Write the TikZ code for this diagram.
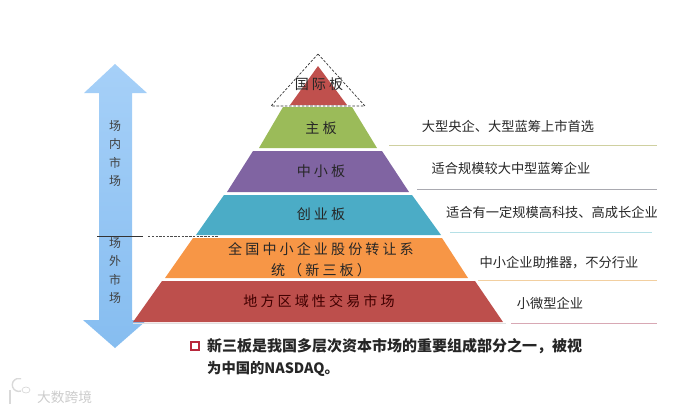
\documentclass[tikz,border=0pt]{standalone}
\usepackage{fontspec}
\setmainfont{Noto Sans CJK SC}
\newfontfamily\tierfont[LetterSpace=22]{Noto Sans CJK SC}
\usetikzlibrary{positioning}
\definecolor{arrowtop}{HTML}{A6D0F8}
\definecolor{arrowbot}{HTML}{86BDF0}
\definecolor{redtop}{HTML}{C0504D}
\definecolor{greentier}{HTML}{9BBB59}
\definecolor{purpletier}{HTML}{8064A2}
\definecolor{bluetier}{HTML}{4BACC6}
\definecolor{orangetier}{HTML}{F79646}
\definecolor{redbase}{HTML}{BD4F4C}
\definecolor{linegreen}{HTML}{CFD0A0}
\definecolor{linegrey}{HTML}{A9A9B0}
\definecolor{lineblue}{HTML}{B5E0E6}
\definecolor{lineorange}{HTML}{F2CFA0}
\definecolor{linered}{HTML}{D8A8B4}
\definecolor{markred}{HTML}{B8283C}
\tikzset{
  tier/.style={font=\tierfont\fontsize{12}{17.9}\selectfont, text=black!85, align=center, inner sep=0pt},
  note/.style={font=\fontsize{11.3}{15}\selectfont, text=black!85, inner sep=0pt},
  side/.style={font=\fontsize{10.2}{14}\selectfont, text=black!75, inner sep=0pt, text height=9pt, text depth=1.2pt},
  rule/.style={line width=0.7pt},
}
\begin{document}
\begin{tikzpicture}[x=0.03cm,y=-0.03cm]
\useasboundingbox (0,0) rectangle (699,412);
% double arrow
\shade[top color=arrowtop, bottom color=arrowbot]
  (115,64) -- (147,93) -- (132,93) -- (132,320) -- (147,320) -- (115,348) -- (83,320) -- (99,320) -- (99,93) -- (84,93) -- cycle;
\node[side] (in1) at (115,126) {场};
\node[side,below=5.1pt of in1] (in2) {内};
\node[side,below=5.1pt of in2] (in3) {市};
\node[side,below=5.1pt of in3] (in4) {场};
\node[side] (out1) at (115,243) {场};
\node[side,below=5.1pt of out1] (out2) {外};
\node[side,below=5.1pt of out2] (out3) {市};
\node[side,below=5.1pt of out3] (out4) {场};
\coordinate (cutA) at (97,236);
\coordinate (cutB) at (143,236);
\coordinate (cutC) at (148,236);
\coordinate (cutD) at (219,236);
\draw[line width=0.6pt, black!80] (cutA) -- (cutB);
\draw[dash pattern=on 2pt off 1.2pt, line width=0.5pt, black!70] (cutC) -- (cutD);
% pyramid
\fill[redtop] (318,66) -- (347,105) -- (290,105) -- cycle;
\fill[greentier] (283,107) -- (352,107) -- (377,148) -- (259,148) -- cycle;
\fill[purpletier] (253,151) -- (382,151) -- (409,192) -- (227,192) -- cycle;
\fill[bluetier] (224,195) -- (412,195) -- (441,235) -- (196,235) -- cycle;
\fill[orangetier] (193,238) -- (442,238) -- (468,278) -- (165,278) -- cycle;
\fill[redbase] (162,281) -- (475,281) -- (503,322) -- (133,322) -- cycle;
\draw[black!12, line width=1pt] (133,323.5) -- (506,323.5);
\draw[dash pattern=on 2.2pt off 1.4pt, line width=0.6pt, black!80] (318,54) -- (365,106) -- (271,106) -- cycle;
\node[tier] (intl) at (319,84) {国际板};
\node[tier] (main) at (321,128) {主板};
\node[tier] (sme) at (321,171) {中小板};
\node[tier] (gem) at (321,214) {创业板};
\node[tier] (neeq) at (321,259.5) {全国中小企业股份转让系\\统（新三板）};
\node[tier, text=black!75!red] (otc) at (319,301) {地方区域性交易市场};
% notes
\node[note] (n1) at (508,126) {大型央企、大型蓝筹上市首选};
\node[note] (n2) at (511,168) {适合规模较大中型蓝筹企业};
\node[note] (n3) at (552,212) {适合有一定规模高科技、高成长企业};
\node[note] (n4) at (559,263) {中小企业助推器，不分行业};
\node[note] (n5) at (550,303) {小微型企业};
\coordinate (l1a) at (389,145); \coordinate (l1b) at (657,145);
\coordinate (l2a) at (417,189); \coordinate (l2b) at (657,189);
\coordinate (l3a) at (450,232); \coordinate (l3b) at (652,232);
\coordinate (l4a) at (478,280); \coordinate (l4b) at (657,280);
\coordinate (l5a) at (511,323); \coordinate (l5b) at (657,323);
\draw[rule, draw=linegreen] (l1a) -- (l1b);
\draw[rule, draw=linegrey] (l2a) -- (l2b);
\draw[rule, draw=lineblue] (l3a) -- (l3b);
\draw[rule, draw=lineorange] (l4a) -- (l4b);
\draw[rule, draw=linered] (l5a) -- (l5b);
% remark
\node[draw=markred, line width=1.3pt, minimum size=7pt, inner sep=0pt] (mark) at (195,346) {};
\node[note, font=\fontsize{12.8}{15}\bfseries\selectfont, anchor=west] (r1) at (207,346) {新三板是我国多层次资本市场的重要组成部分之一，被视};
\node[note, font=\fontsize{12.2}{15}\bfseries\selectfont, anchor=west] (r2) at (207,369) {为中国的NASDAQ。};
% watermark
\draw[black!15, line width=1.2pt] (10,390) -- (10,404);
\draw[black!15, line width=1.2pt] (21,391) arc (70:290:6.5);
\draw[black!15, line width=0.6pt] (26,390) ellipse (4 and 3);
\node[font=\fontsize{11.7}{14}\selectfont, text=black!20, anchor=west, inner sep=0pt] (wm) at (37,397) {大数跨境};
\end{tikzpicture}
\end{document}
